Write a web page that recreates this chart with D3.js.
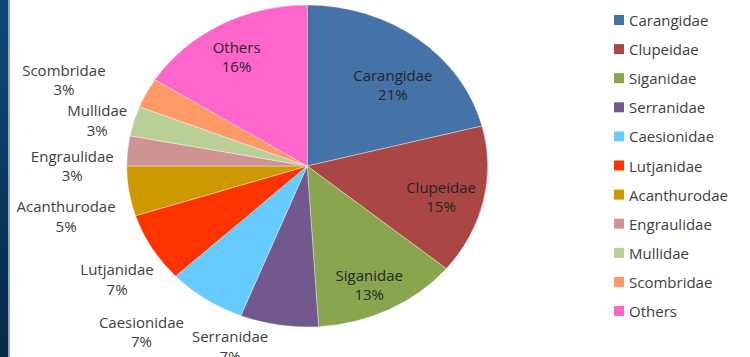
<!DOCTYPE html>
<html>
<head>
<meta charset="utf-8">
<script src="https://cdn.jsdelivr.net/npm/d3@7/dist/d3.min.js"></script>
<style>
  html, body { margin: 0; padding: 0; background: #ffffff; }
  svg { display: block; }
  text { font-family: "Open Sans", "Noto Sans", sans-serif; }
</style>
</head>
<body>
<svg id="chart" width="750" height="357"></svg>
<script>
// Share of catch by fish family (percent)
const families = ["Carangidae", "Clupeidae", "Siganidae", "Serranidae", "Caesionidae",
  "Lutjanidae", "Acanthurodae", "Engraulidae", "Mullidae", "Scombridae", "Others"];
const shares = [21, 15, 13, 7, 7, 7, 5, 3, 3, 3, 16];
const colors = ["#4572A7", "#AA4643", "#89A54E", "#71588F", "#66CCFF",
  "#FF3300", "#CC9900", "#D09393", "#BACE98", "#FF9966", "#FF66CC"];

// Labels that sit inside their slice; the rest go outside the pie
const insideLabels = ["Carangidae", "Clupeidae", "Siganidae", "Others"];
// Hand adjustments of label placement, in pixels [dx, dy]
const labelNudge = {
  Carangidae: [6, 10], Clupeidae: [7, 5], Siganidae: [3, 15], Others: [-8, -8],
  Scombridae: [-40, -2], Mullidae: [-2, 6], Engraulidae: [-8, 17],
  Acanthurodae: [-8, 21], Lutjanidae: [2, 18], Caesionidae: [-37, 11],
  Serranidae: [-42, -4]
};

const svg = d3.select("#chart");
const W = 750, H = 357;

// Dark side band on the left edge
const defs = svg.append("defs");
const grad = defs.append("linearGradient").attr("id", "band")
  .attr("x1", 0).attr("y1", 0).attr("x2", 0).attr("y2", 1);
grad.append("stop").attr("offset", "0%").attr("stop-color", "#0d4a79");
grad.append("stop").attr("offset", "100%").attr("stop-color", "#05294a");
svg.append("rect").attr("x", 0).attr("y", 0).attr("width", 8.5).attr("height", H)
  .attr("fill", "url(#band)");
svg.append("rect").attr("x", 8.5).attr("y", 0).attr("width", 1.5).attr("height", H)
  .attr("fill", "#a8acb0");

// Pie geometry (slightly flattened vertically)
const cx = 307.2, cy = 166, R = 180.5, ky = 161 / 180.5;

const data = families.map((f, i) => ({ name: f, value: shares[i], color: colors[i] }));
const pie = d3.pie().value(d => d.value).sort(null);
const arcs = pie(data);
const arc = d3.arc().innerRadius(0).outerRadius(R);

const pieG = svg.append("g")
  .attr("transform", `translate(${cx},${cy}) scale(1,${ky})`);
pieG.selectAll("path").data(arcs).join("path")
  .attr("d", arc)
  .attr("fill", d => d.data.color)
  .attr("stroke", "#ffffff")
  .attr("stroke-width", 0.6)
  .attr("stroke-opacity", 0.6)
  .attr("vector-effect", "non-scaling-stroke");

// Data labels
const fontSize = 15, lineGap = 19.5;
const labelG = svg.append("g");
arcs.forEach(a => {
  const name = a.data.name;
  const mid = (a.startAngle + a.endAngle) / 2;
  const s = Math.sin(mid), c = Math.cos(mid);
  const inside = insideLabels.includes(name);
  const g = labelG.append("g");
  const t1 = g.append("text").text(name);
  const t2 = g.append("text").text(a.data.value + "%");
  g.selectAll("text")
    .attr("text-anchor", "middle")
    .attr("dominant-baseline", "central")
    .attr("font-size", fontSize)
    .attr("fill", inside ? "#262626" : "#404040");
  let x, y;
  if (inside) {
    const k = 0.72;
    x = cx + k * R * s;
    y = cy - k * R * ky * c;
  } else {
    const halfW = Math.max(t1.node().getComputedTextLength(), t2.node().getComputedTextLength()) / 2;
    const halfH = lineGap;
    const gap = 6;
    const px = cx + R * s, py = cy - R * ky * c;
    x = px + (gap + halfW) * s;
    y = py - (gap + halfH) * c;
  }
  const n = labelNudge[name] || [0, 0];
  x += n[0]; y += n[1];
  t1.attr("x", x).attr("y", y - lineGap / 2);
  t2.attr("x", x).attr("y", y + lineGap / 2);
});

// Legend
const legend = svg.append("g").attr("transform", "translate(614,20)");
const rowStep = 29.1;
const rows = legend.selectAll("g").data(data).join("g")
  .attr("transform", (d, i) => `translate(0,${i * rowStep})`);
rows.append("rect")
  .attr("x", 0).attr("y", -5).attr("width", 10).attr("height", 10)
  .attr("fill", d => d.color);
rows.append("text")
  .attr("x", 15).attr("y", 0)
  .attr("dominant-baseline", "central")
  .attr("font-size", fontSize)
  .attr("fill", "#404040")
  .text(d => d.name);
</script>
</body>
</html>
